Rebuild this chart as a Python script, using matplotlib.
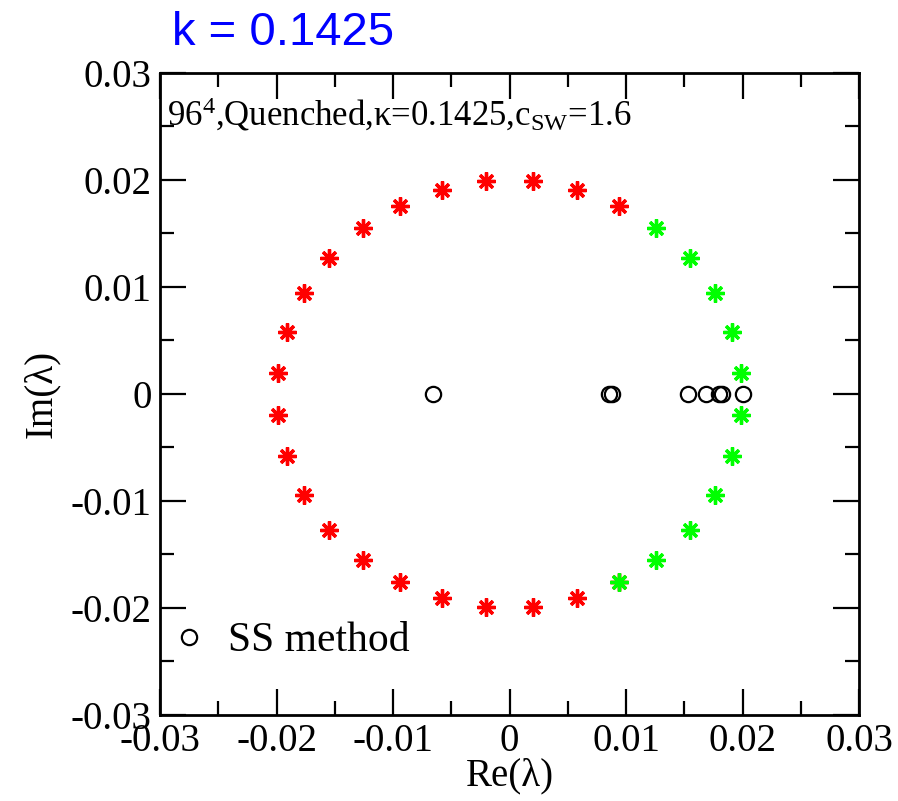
import numpy as np
import matplotlib
matplotlib.use("Agg")
import matplotlib.pyplot as plt
from matplotlib.ticker import MultipleLocator

# eigenvalues (Re, Im)
red_re = [0.0094, 0.0058, 0.0020, -0.0020, -0.0058, -0.0094, -0.0126, -0.0155,
          -0.0176, -0.0191, -0.0199, -0.0199, -0.0191, -0.0176, -0.0155, -0.0126,
          -0.0094, -0.0058, -0.0020, 0.0020, 0.0058, 0.0094]
red_im = [0.0176, 0.0191, 0.0199, 0.0199, 0.0191, 0.0176, 0.0155, 0.0127,
          0.0094, 0.0058, 0.0020, -0.0020, -0.0058, -0.0094, -0.0127, -0.0155,
          -0.0176, -0.0191, -0.0199, -0.0199, -0.0191, -0.0176]

green_re = [0.0126, 0.0155, 0.0176, 0.0191, 0.0199, 0.0199, 0.0191, 0.0176,
            0.0155, 0.0126, 0.0094]
green_im = [0.0155, 0.0127, 0.0094, 0.0058, 0.0020, -0.0020, -0.0058, -0.0094,
            -0.0127, -0.0155, -0.0176]

ss_re = [-0.0066, 0.0085, 0.0088, 0.0153, 0.0169, 0.0180, 0.0182, 0.0200]
ss_im = [0.0, 0.0, 0.0, 0.0, 0.0, 0.0, 0.0, 0.0]

plt.rcParams['font.family'] = ['Liberation Serif', 'DejaVu Serif']
plt.rcParams['mathtext.fontset'] = 'custom'
plt.rcParams['mathtext.rm'] = 'Liberation Serif'
plt.rcParams['mathtext.it'] = 'Liberation Serif'
plt.rcParams['axes.unicode_minus'] = False

fig = plt.figure(figsize=(8.98, 8.01), dpi=100)
ax = fig.add_axes([0.1782, 0.1074, 0.9566 - 0.1782, 0.9089 - 0.1074])

star = (8, 2, 0)
ax.plot(red_re, red_im, linestyle='none', marker=star, markersize=13,
        markeredgewidth=2.4, color='#ff0000')
ax.plot(green_re, green_im, linestyle='none', marker=star, markersize=13,
        markeredgewidth=2.4, color='#00ff00')
ax.plot(ss_re, ss_im, linestyle='none', marker='o', markersize=11,
        markerfacecolor='none', markeredgecolor='black', markeredgewidth=1.6,
        label="SS method")

ax.set_xlim(-0.03, 0.03)
ax.set_ylim(-0.03, 0.03)
ax.xaxis.set_major_locator(MultipleLocator(0.01))
ax.xaxis.set_minor_locator(MultipleLocator(0.005))
ax.yaxis.set_major_locator(MultipleLocator(0.01))
ax.yaxis.set_minor_locator(MultipleLocator(0.005))
fmt = plt.FuncFormatter(lambda v, p: "0" if abs(v) < 1e-9 else f"{v:.2f}")
ax.xaxis.set_major_formatter(fmt)
ax.yaxis.set_major_formatter(fmt)

ax.tick_params(which='both', direction='in', top=True, right=True, width=1.6, labelsize=28)
ax.tick_params(which='major', length=19, pad=6)
ax.tick_params(which='minor', length=10)
for s in ax.spines.values():
    s.set_linewidth(2)

ax.set_xlabel("Re(λ)", fontsize=28, labelpad=-2)
ax.set_ylabel("Im(λ)", fontsize=28, labelpad=8)

ax.text(0.01, 0.935, r"96$^{4}$,Quenched,κ=0.1425,c$_{\mathrm{SW}}$=1.6",
        transform=ax.transAxes, fontsize=25, va='center', ha='left')

ax.legend(loc='center left', bbox_to_anchor=(0.0, 0.115), frameon=False, fontsize=30,
          handlelength=0.5, handletextpad=0.68, borderaxespad=0.0, borderpad=0.45)

fig.text(172 / 898, 1 - 33 / 801, "k = 0.1425", color='#0000ff', fontsize=34,
         family='Liberation Sans', va='center', ha='left')

fig.savefig("out.png", dpi=100)
